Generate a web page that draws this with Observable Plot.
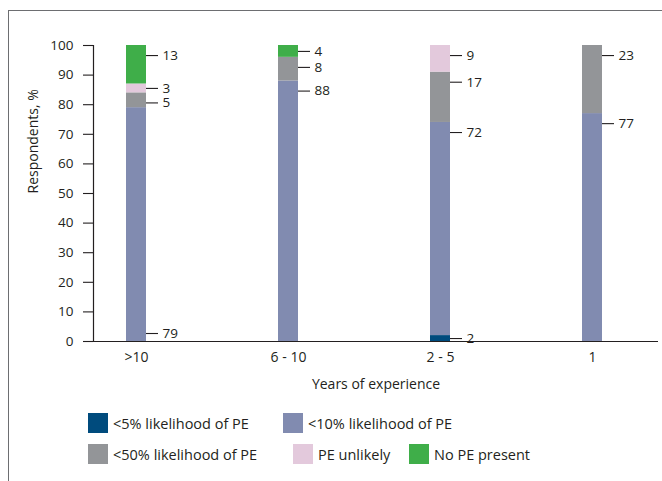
<!DOCTYPE html>
<html>
<head>
<meta charset="utf-8">
<script src="https://cdn.jsdelivr.net/npm/d3@7"></script>
<script src="https://cdn.jsdelivr.net/npm/@observablehq/plot@0.6"></script>
<style>
  html, body { margin: 0; padding: 0; background: #fff; }
  #wrap { position: relative; width: 662px; height: 481px; overflow: hidden; font-family: "Open Sans", sans-serif; color: #231f20; }
  #frame { position: absolute; left: 8px; top: 10px; width: 700px; height: 500px; border-left: 1.5px solid #6d6e71; border-top: 1.5px solid #6d6e71; }
  #chart { position: absolute; left: 0; top: 0; }
  .legend-row { position: absolute; left: 0; height: 20px; width: 662px; }
  .item { position: absolute; top: 0; display: flex; align-items: center; height: 20px; font-size: 14.5px; white-space: nowrap; }
  .sw { width: 20px; height: 20px; margin-right: 5px; flex: none; }
</style>
</head>
<body>
<div id="wrap">
  <div id="frame"></div>
  <div id="chart"></div>
  <div id="legend"></div>
</div>
<script>
// ---- data ----
const categories = [">10", "6 - 10", "2 - 5", "1"];
const seriesNames = ["<5% likelihood of PE", "<10% likelihood of PE", "<50% likelihood of PE", "PE unlikely", "No PE present"];
const seriesColors = ["#004b7d", "#818bb0", "#939598", "#e3c9dc", "#3fae49"];
const lt5 = [0, 0, 2, 0];
const lt10 = [79, 88, 72, 77];
const lt50 = [5, 8, 17, 23];
const unlikely = [3, 0, 9, 0];
const noPE = [13, 4, 0, 0];
const yTicks = [0, 10, 20, 30, 40, 50, 60, 70, 80, 90, 100];
// labels placed at the bottom of their segment instead of near the top
const bottomLabels = [">10|<10% likelihood of PE"];

const seriesValues = [lt5, lt10, lt50, unlikely, noPE];
const rows = [];
categories.forEach((c, i) => {
  seriesNames.forEach((s, j) => rows.push({cat: c, series: s, value: seriesValues[j][i]}));
});

// label positions from the stacked segments
const labels = [];
categories.forEach((c, i) => {
  let base = 0;
  seriesNames.forEach((s, j) => {
    const v = seriesValues[j][i];
    const bottom = base, top = base + v;
    base = top;
    if (v <= 0) return;
    let y;
    if (bottomLabels.includes(c + "|" + s)) y = bottom + 2.7;
    else if (v <= 4) y = (bottom + top) / 2;
    else y = top - 3.4;
    labels.push({cat: c, y, text: String(v)});
  });
});

const ink = "#231f20";
const plot = Plot.plot({
  width: 662,
  height: 400,
  marginLeft: 93,
  marginRight: 4,
  marginTop: 45,
  marginBottom: 59,
  style: {fontFamily: "Open Sans, sans-serif", fontSize: "13px", color: ink, background: "transparent"},
  x: {domain: categories, paddingInner: 0.869, paddingOuter: 0.29, align: 0.375, label: null},
  y: {domain: [0, 100], ticks: yTicks, label: null},
  color: {domain: seriesNames, range: seriesColors},
  marks: [
    Plot.barY(rows, {x: "cat", y: "value", fill: "series", order: seriesNames}),
    Plot.tickY(labels, {x: "cat", y: "y", dx: 20, insetRight: 8, stroke: ink, strokeWidth: 1.1}),
    Plot.text(labels, {x: "cat", y: "y", text: "text", dx: 26, textAnchor: "start", fill: ink, fontSize: 13.5}),
    Plot.axisY({ticks: yTicks, tickSize: 10, tickPadding: 10, fontSize: 13.5, stroke: ink, strokeWidth: 1.1, label: null}),
    Plot.axisX({tickSize: 0, tickPadding: 11, fontSize: 14, label: null}),
    Plot.frame({anchor: "left", stroke: ink, strokeWidth: 1.2}),
    Plot.ruleY([0], {stroke: ink, strokeWidth: 1.2}),
    Plot.text(["Respondents, %"], {frameAnchor: "left", dx: -60, rotate: -90, fontSize: 14, fill: ink}),
    Plot.text(["Years of experience"], {frameAnchor: "bottom", dy: 47, fontSize: 14, fill: ink})
  ]
});
document.getElementById("chart").appendChild(plot);

// legend
const legendRows = [[0, 1], [2, 3, 4]];
const legendTop = [413, 444];
const legendLeft = {"<5% likelihood of PE": 88, "<10% likelihood of PE": 283, "<50% likelihood of PE": 88, "PE unlikely": 293, "No PE present": 409};
const legend = document.getElementById("legend");
legendRows.forEach((r, ri) => {
  const row = document.createElement("div");
  row.className = "legend-row";
  row.style.top = legendTop[ri] + "px";
  r.forEach(j => {
    const it = document.createElement("div");
    it.className = "item";
    it.style.left = legendLeft[seriesNames[j]] + "px";
    const sw = document.createElement("span");
    sw.className = "sw";
    sw.style.background = seriesColors[j];
    const tx = document.createElement("span");
    tx.textContent = seriesNames[j];
    it.appendChild(sw); it.appendChild(tx);
    row.appendChild(it);
  });
  legend.appendChild(row);
});
</script>
</body>
</html>
